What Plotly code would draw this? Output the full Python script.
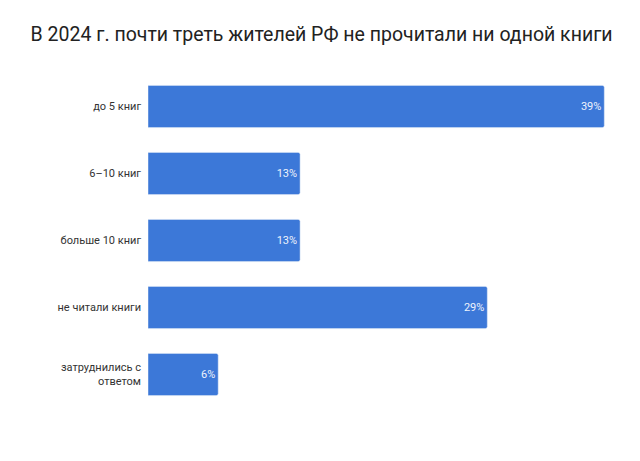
import plotly.graph_objects as go

# данные опроса
категории = ["до 5 книг", "6–10 книг", "больше 10 книг", "не читали книги", "затруднились с<br>ответом"]
доли = [39, 13, 13, 29, 6]
подписи = [f"{v}%" for v in доли]

fig = go.Figure(go.Bar(
    x=доли,
    y=категории,
    orientation="h",
    text=подписи,
    textposition="inside",
    insidetextanchor="end",
    textfont=dict(color="#eef3fc", size=11, family="Roboto"),
    marker=dict(color="#3c78d8", cornerradius=2),
    hoverinfo="x+y",
))

fig.update_layout(
    width=640, height=461,
    paper_bgcolor="white", plot_bgcolor="white",
    showlegend=False,
    title=dict(text="В 2024 г. почти треть жителей РФ не прочитали ни одной книги",
               x=0.49, xanchor="center", y=0.944, yanchor="middle",
               font=dict(family="Roboto", size=19.5, color="#222222")),
    margin=dict(l=140, r=32, t=65, b=61),
    bargap=0.37,
    xaxis=dict(range=[0, 40], showgrid=False, zeroline=False, showticklabels=False, fixedrange=True),
    yaxis=dict(autorange="reversed", showgrid=False, zeroline=False, ticks="",
               ticklabelstandoff=6,
               tickfont=dict(family="Roboto", size=11, color="#333333")),
)

fig.write_html("out.html")
